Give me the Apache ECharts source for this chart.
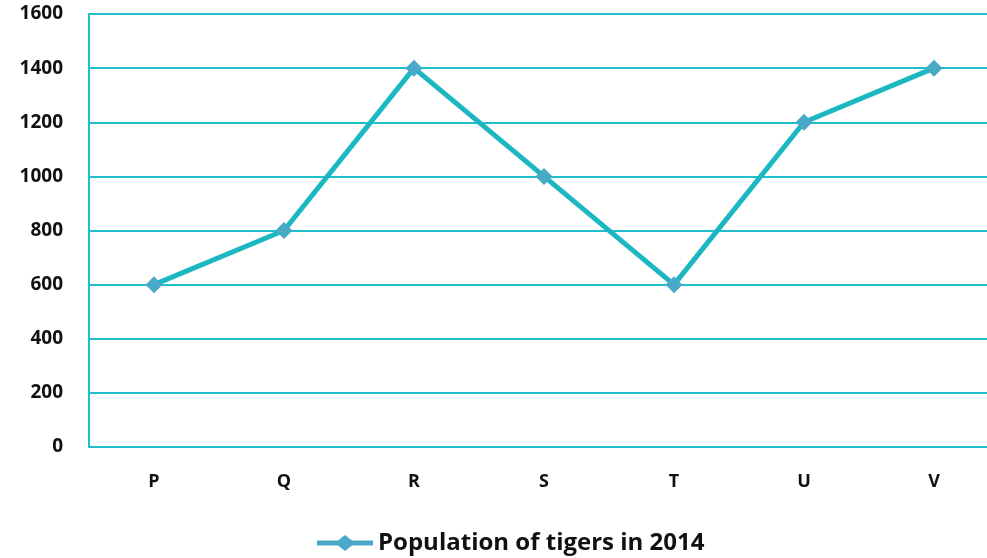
<!DOCTYPE html>
<html><head><meta charset="utf-8">
<script src="https://cdn.jsdelivr.net/npm/echarts@6/dist/echarts.min.js"></script>
<style>html,body{margin:0;padding:0;background:#fff;overflow:hidden}#c{width:999px;height:558px}</style>
</head><body><div id="c"></div>
<script>
const categories = ['P','Q','R','S','T','U','V'];
const values = [600, 800, 1400, 1000, 600, 1200, 1400];
const seriesName = 'Population of tigers in 2014';
const yMin = 0, yMax = 1600, yStep = 200;

const chart = echarts.init(document.getElementById('c'));
const font = '"Open Sans", "Liberation Sans", sans-serif';
chart.setOption({
  animation: false,
  backgroundColor: '#ffffff',
  grid: { left: 89, top: 14, right: 0, bottom: 111, containLabel: false },
  legend: {
    top: 526, left: 312,
    itemWidth: 56, itemHeight: 16, itemGap: 4,
    textStyle: { fontFamily: font, fontWeight: 'bold', fontSize: 24, color: '#111' },
    data: [{ name: seriesName, icon: 'path://M0,5.5 L21,5.5 L28,0 L35,5.5 L56,5.5 L56,10.5 L35,10.5 L28,16 L21,10.5 L0,10.5 Z' }]
  },
  xAxis: {
    type: 'category', data: categories, boundaryGap: true,
    axisLine: { show: false }, axisTick: { show: false },
    axisLabel: { margin: 26, fontFamily: font, fontWeight: 'bold', fontSize: 18, color: '#111' },
    splitLine: { show: false }
  },
  yAxis: {
    type: 'value', min: yMin, max: yMax, interval: yStep,
    axisLine: { show: true, lineStyle: { color: '#1fbfcc', width: 2 } },
    axisTick: { show: false },
    axisLabel: { margin: 26, fontFamily: font, fontWeight: 'bold', fontSize: 19, color: '#111', formatter: v => String(v) },
    splitLine: { show: true, lineStyle: { color: '#1fbfcc', width: 2 } }
  },
  series: [{
    name: seriesName, type: 'line', data: values,
    lineStyle: { color: '#1cb8c2', width: 5 },
    itemStyle: { color: '#4aa9c6' },
    symbol: 'diamond', symbolSize: 17, showSymbol: true
  }]
});
</script></body></html>
